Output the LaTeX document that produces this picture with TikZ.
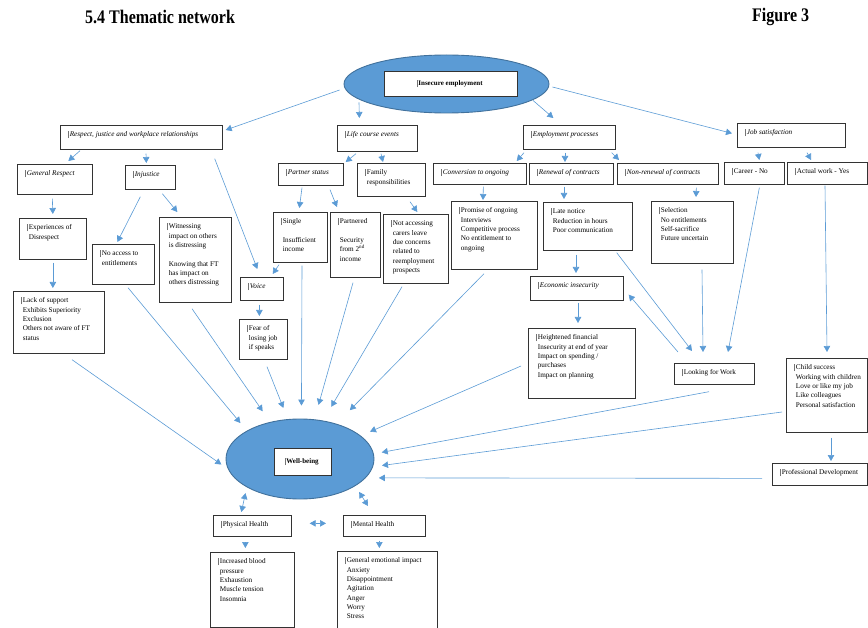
\documentclass[tikz,border=0pt]{standalone}
\usepackage{fontspec}
\setmainfont{Liberation Serif}
\usetikzlibrary{shapes.geometric, arrows.meta}

\definecolor{hubfill}{HTML}{5B9BD5}
\definecolor{hubline}{HTML}{41719C}
\definecolor{linkblue}{HTML}{5B9BD5}

% little text-box marker and top-left aligned box text
\newcommand{\mk}{\llap{\color{black!55}\rule[-1.2pt]{0.4pt}{7.5pt}\hspace{1pt}}}
\newcommand{\bx}[3]{\parbox[t][#2pt][t]{#1pt}{\raggedright\leftskip=9.5pt\rule{0pt}{11.5pt}\mk#3}}

\begin{document}
\begin{tikzpicture}[x=1pt, y=-1pt]
\tikzstyle{every node}=[font=\fontsize{7.2}{9.3}\selectfont]
\tikzstyle{box}=[draw=black!80, line width=0.7pt, anchor=north west, inner sep=0pt, fill=white]
\tikzstyle{hub}=[ellipse, draw=hubline, line width=0.9pt, fill=hubfill, inner sep=0pt]
\tikzstyle{link}=[draw=linkblue, line width=0.6pt, -{Triangle[length=6pt,width=6.5pt]}]
\tikzstyle{both}=[draw=linkblue, line width=0.6pt, {Triangle[length=6pt,width=6.5pt]}-{Triangle[length=6pt,width=6.5pt]}]
\tikzstyle{head}=[font=\fontsize{16}{18}\selectfont\bfseries, anchor=west, inner sep=0pt]

\useasboundingbox (0,0) rectangle (868,628);

\node[head] (title) at (85,17) {\scalebox{1}[1.2]{5.4 Thematic network}};
\node[head] (fignum) at (752,17) {\scalebox{1}[1.2]{Figure 3}};

% core themes
\node[hub, minimum width=205pt, minimum height=58pt] (ie) at (446.5,84) {};
\node[box, anchor=center, minimum width=133pt, minimum height=25pt, font=\fontsize{7}{9}\selectfont\bfseries] (iebox) at (450.5,83.5) {\mk Insecure employment};
\node[hub, minimum width=148pt, minimum height=80pt] (wb) at (300,459) {};
\node[box, anchor=center, minimum width=57pt, minimum height=27pt, font=\fontsize{7}{9}\selectfont\bfseries] (wbbox) at (302.5,461.5) {\mk Well-being};

% organising themes
\node[box] at (60,125) (respect) {\bx{162}{24}{\textit{Respect, justice and workplace relationships}}};
\node[box] at (337,125) (life) {\bx{80}{26}{\textit{Life course events}}};
\node[box] at (523,125) (emp) {\bx{92}{24}{\textit{Employment processes}}};
\node[box] at (737,123) (jobsat) {\bx{108}{24}{\textit{Job satisfaction}}};

\node[box] at (17,164) (genresp) {\bx{75}{30}{\textit{General Respect}}};
\node[box] at (125,165) (injust) {\bx{50}{24}{\textit{Injustice}}};
\node[box] at (278,163) (partner) {\bx{65}{22}{\textit{Partner status}}};
\node[box] at (357,163) (family) {\bx{68}{33}{Family\\responsibilities}};
\node[box] at (433,163) (conv) {\bx{93}{21}{\textit{Conversion to ongoing}}};
\node[box] at (529,163) (renew) {\bx{84}{21}{\textit{Renewal of contracts}}};
\node[box] at (617,163) (nonrenew) {\bx{101}{21}{\textit{Non-renewal of contracts}}};
\node[box] at (724,162) (career) {\bx{60}{22}{Career - No}};
\node[box] at (787,162) (actual) {\bx{80}{22}{Actual work - Yes}};

% basic themes
\node[box] at (19,218) (exper) {\bx{67}{41}{Experiences of\\Disrespect}};
\node[box] at (92,244) (noaccess) {\bx{62}{40}{No access to\\entitlements}};
\node[box] at (159,217) (witness) {\bx{72}{85}{Witnessing\\impact on others\\is distressing\\[9.3pt]Knowing that FT\\has impact on\\others distressing}};
\node[box] at (273,212) (single) {\bx{54}{50}{Single\\[9.3pt]Insufficient\\income}};
\node[box] at (330,212) (partnered) {\bx{50}{65}{Partnered\\[9.3pt]Security\\from 2\textsuperscript{nd}\\income}};
\node[box] at (383,214) (notacc) {\bx{65}{69}{Not accessing\\carers leave\\due concerns\\related to\\reemployment\\prospects}};
\node[box] at (451,201) (promise) {\bx{86}{68}{Promise of ongoing\\Interviews\\Competitive process\\No entitlement to\\ongoing}};
\node[box] at (543,202) (late) {\bx{89}{48}{Late notice\\Reduction in hours\\Poor communication}};
\node[box] at (651,201) (selection) {\bx{82}{62}{Selection\\No entitlements\\Self-sacrifice\\Future uncertain}};
\node[box] at (240,277) (voice) {\bx{43}{23}{\textit{Voice}}};
\node[box] at (239,319) (fear) {\bx{48}{40}{Fear of\\losing job\\if speaks}};
\node[box] at (13,291) (lack) {\bx{91}{62}{Lack of support\\Exhibits Superiority\\Exclusion\\Others not aware of FT\\status}};
\node[box] at (530,276) (econ) {\bx{93}{24}{\textit{Economic insecurity}}};
\node[box] at (528,328) (height) {\bx{107}{70}{Heightened financial\\Insecurity at end of year\\Impact on spending /\\purchases\\Impact on planning}};
\node[box] at (674,363) (looking) {\bx{80}{21}{Looking for Work}};
\node[box] at (786,358) (child) {\bx{81}{74}{Child success\\Working with children\\Love or like my job\\Like colleagues\\Personal satisfaction}};
\node[box] at (772,463) (prof) {\bx{95}{22}{Professional Development}};
\node[box] at (213,515) (physical) {\bx{78}{21}{Physical Health}};
\node[box] at (343,515) (mental) {\bx{82}{21}{Mental Health}};
\node[box] at (210,552) (increased) {\bx{84}{75}{Increased blood\\pressure\\Exhaustion\\Muscle tension\\Insomnia}};
\node[box] at (337,551) (general) {\bx{100}{90}{General emotional impact\\Anxiety\\Disappointment\\Agitation\\Anger\\Worry\\Stress}};

% from insecure employment
\draw[link] ([shift={(-4,6)}]ie.west) -- ([shift={(3,5)}]respect.north east);
\draw[link] ([shift={(-87.5,-11)}]ie.south) -- ([shift={(-18,-7)}]life.north);
\draw[link] ([shift={(86.5,-13)}]ie.south) -- ([shift={(-16,-7)}]emp.north);
\draw[link] ([shift={(3,3)}]ie.east) -- ([shift={(-5,-2)}]jobsat.west);

% respect branch
\draw[link] ([shift={(20,1)}]respect.south west) -- ([shift={(13.5,-3)}]genresp.north);
\draw[link] ([shift={(86,4)}]respect.south west) -- ([shift={(-4,-2)}]injust.north);
\draw[link] ([shift={(-8,9)}]respect.south east) -- ([shift={(-4.5,-8)}]voice.north);
\draw[link] ([shift={(-2.5,4)}]genresp.south) -- ([shift={(0,-4)}]exper.north);
\draw[link] ([shift={(0,3)}]exper.south) -- ([shift={(-6,-3)}]lack.north);
\draw[link] ([shift={(-10,7)}]injust.south) -- ([shift={(-6,-2)}]noaccess.north);
\draw[link] ([shift={(12,4)}]injust.south) -- ([shift={(-18,-5)}]witness.north);
\draw[link] ([shift={(-2.5,4)}]voice.south) -- ([shift={(-4,-3)}]fear.north);

% life course branch
\draw[link] ([shift={(19,2)}]life.south west) -- ([shift={(2,-1)}]partner.north east);
\draw[link] ([shift={(44,2)}]life.south west) -- ([shift={(26,-1)}]family.north west);
\draw[link] ([shift={(24,2)}]partner.south west) -- ([shift={(-1,-4)}]single.north);
\draw[link] ([shift={(52,4)}]partner.south west) -- ([shift={(7,-5)}]partnered.north west);
\draw[link] ([shift={(53,5)}]family.south west) -- ([shift={(1.5,-2)}]notacc.north);
\draw[link] ([shift={(6,2)}]single.south west) -- ([shift={(-11,-3)}]voice.north east);

% employment branch
\draw[link] ([shift={(1,3)}]emp.south west) -- ([shift={(-10,-2)}]conv.north east);
\draw[link] ([shift={(42,3)}]emp.south west) -- ([shift={(36,-1)}]renew.north west);
\draw[link] ([shift={(-4,3)}]emp.south east) -- ([shift={(2,-3)}]nonrenew.north west);
\draw[link] ([shift={(3.5,2)}]conv.south) -- ([shift={(32,-1)}]promise.north west);
\draw[link] ([shift={(35,2)}]renew.south west) -- ([shift={(21,-3)}]late.north west);
\draw[link] ([shift={(28.5,3)}]nonrenew.south) -- ([shift={(45,-4)}]selection.north west);
\draw[link] ([shift={(33,4)}]late.south west) -- ([shift={(46,-3)}]econ.north west);
\draw[link] ([shift={(48,2)}]econ.south west) -- ([shift={(50,-5)}]height.north west);
\draw[link] ([shift={(-16,2)}]late.south east) -- ([shift={(18,-12)}]looking.north west);
\draw[link] ([shift={(4,-11)}]looking.north west) -- ([shift={(5,-6)}]econ.south east);
\draw[link] ([shift={(51,6)}]selection.south west) -- ([shift={(29,-11)}]looking.north west);

% job satisfaction branch
\draw[link] ([shift={(21,5)}]jobsat.south west) -- ([shift={(5,-2)}]career.north);
\draw[link] ([shift={(70,5)}]jobsat.south west) -- ([shift={(24,-2)}]actual.north west);
\draw[link] ([shift={(5,3)}]career.south) -- ([shift={(54,-11)}]looking.north west);
\draw[link] ([shift={(38,1)}]actual.south west) -- ([shift={(41,-6)}]child.north west);
\draw[link] ([shift={(45,5)}]child.south west) -- ([shift={(59,-2)}]prof.north west);

% into well-being
\draw[link, shorten >=8pt] ([shift={(59,6)}]lack.south west) -- (wb.188);
\draw[link, shorten >=10pt] ([shift={(36,3)}]noaccess.south west) -- (wb.152);
\draw[link, shorten >=13pt] ([shift={(33,6)}]witness.south west) -- (wb.129);
\draw[link, shorten >=12pt] ([shift={(28,7)}]fear.south west) -- (wb.107);
\draw[link, shorten >=13pt] ([shift={(29,3)}]single.south west) -- (wb.88);
\draw[link, shorten >=15pt] ([shift={(23,5)}]partnered.south west) -- (wb.70);
\draw[link, shorten >=16pt] ([shift={(19,3)}]notacc.south west) -- (wb.59);
\draw[link, shorten >=19pt] ([shift={(33,4)}]promise.south west) -- (wb.44);
\draw[link, shorten >=10pt] ([shift={(-7,38)}]height.north west) -- (wb.21);
\draw[link, shorten >=8pt] ([shift={(35,7)}]looking.south west) -- (wb.4);
\draw[link, shorten >=9pt] ([shift={(-4,54)}]child.north west) -- (wb.-6);
\draw[link, shorten >=13pt] ([shift={(-10,4)}]prof.west) -- (wb.-16);

% health
\draw[both, shorten <=6pt] (wb.208) -- ([shift={(-11,-3)}]physical.north);
\draw[both, shorten <=7pt] (wb.-26) -- ([shift={(25,-9)}]mental.north west);
\draw[both] ([shift={(18,-2.5)}]physical.east) -- ([shift={(-17,-2.5)}]mental.west);
\draw[link] ([shift={(-7,6)}]physical.south) -- ([shift={(-7,-4)}]increased.north);
\draw[link] ([shift={(-5,4)}]mental.south) -- ([shift={(-8,-3)}]general.north);
\end{tikzpicture}
\end{document}
